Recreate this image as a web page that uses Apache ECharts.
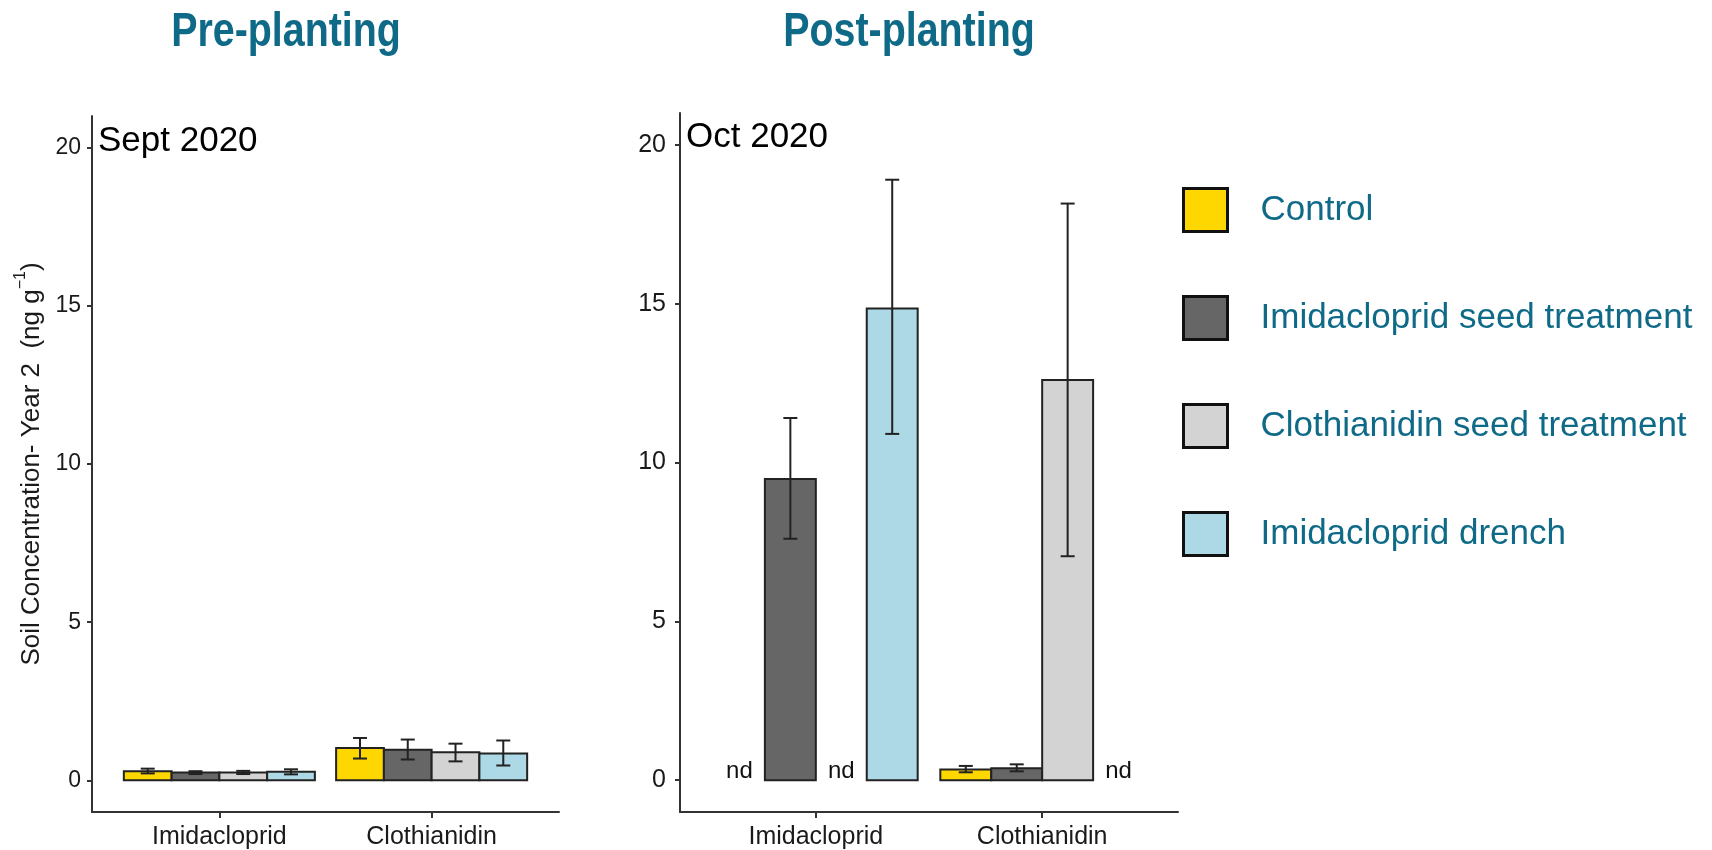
<!DOCTYPE html>
<html><head><meta charset="utf-8">
<script src="https://cdn.jsdelivr.net/npm/echarts@6/dist/echarts.min.js"></script>
<style>html,body{margin:0;padding:0;background:#fff}#c{width:1712px;height:850px}</style>
</head><body><div id="c"></div>
<script>
// ---- data ----
const categories = ['Imidacloprid', 'Clothianidin'];
const treatments = ['Control', 'Imidacloprid seed treatment', 'Clothianidin seed treatment', 'Imidacloprid drench'];
const yTicks = [0, 5, 10, 15, 20];
const panelTitles = ['Pre-planting', 'Post-planting'];
const panelDates = ['Sept 2020', 'Oct 2020'];
// Sept 2020 (pre-planting): rows = treatments, columns = categories
const septMeans = [[0.29, 1.02], [0.25, 0.97], [0.25, 0.89], [0.27, 0.85]];
const septLo    = [[0.22, 0.69], [0.20, 0.66], [0.20, 0.60], [0.19, 0.47]];
const septHi    = [[0.37, 1.34], [0.29, 1.29], [0.30, 1.16], [0.35, 1.26]];
// Oct 2020 (post-planting): null = not detected (nd)
const octMeans = [[null, 0.34], [9.48, 0.38], [null, 12.6], [14.85, null]];
const octLo    = [[null, 0.25], [7.6, 0.28], [null, 7.05], [10.9, null]];
const octHi    = [[null, 0.45], [11.4, 0.50], [null, 18.15], [18.9, null]];

// ---- style ----
const colors = ['#FFD700', '#666666', '#D3D3D3', '#ADD8E6'];
const SANS = '"Liberation Sans", Arial, sans-serif';
const TEAL = '#0f6a88';
const AX = '#333333';
const DODGE = 0.225;

function renderer(slot) {
  return function (params, api) {
    const c = api.value(0), v = api.value(1), lo = api.value(2), hi = api.value(3);
    const xc = c + (slot - 1.5) * DODGE;
    if (v == null || isNaN(v)) {
      const p = api.coord([xc, 0]);
      return { type: 'text', x: p[0], y: p[1] + 3,
        style: { text: 'nd', font: '24px ' + SANS, fill: '#111', align: 'center', verticalAlign: 'bottom', textAlign: 'center', textVerticalAlign: 'bottom' } };
    }
    const a = api.coord([xc - DODGE / 2, 0]);
    const b = api.coord([xc + DODGE / 2, v]);
    const t = api.coord([xc, hi]);
    const m = api.coord([xc, lo]);
    const cap = 7;
    const ls = { stroke: '#222', lineWidth: 2 };
    return { type: 'group', children: [
      { type: 'rect', shape: { x: a[0], y: b[1], width: b[0] - a[0], height: a[1] - b[1] },
        style: { fill: colors[slot], stroke: '#222', lineWidth: 2 } },
      { type: 'line', shape: { x1: t[0], y1: t[1], x2: m[0], y2: m[1] }, style: ls },
      { type: 'line', shape: { x1: t[0] - cap, y1: t[1], x2: t[0] + cap, y2: t[1] }, style: ls },
      { type: 'line', shape: { x1: m[0] - cap, y1: m[1], x2: m[0] + cap, y2: m[1] }, style: ls }
    ]};
  };
}

function seriesFor(idx, means, lo, hi) {
  return treatments.map((name, s) => ({
    type: 'custom', name: name, xAxisIndex: idx, yAxisIndex: idx,
    itemStyle: { color: colors[s] },
    renderItem: renderer(s),
    data: categories.map((cat, i) => [i + 1, means[s][i], lo[s][i], hi[s][i]])
  }));
}

function xAxis(idx, fs) {
  return { type: 'value', gridIndex: idx, min: 0.4, max: 2.6,
    axisLine: { show: true, onZero: false, lineStyle: { color: AX, width: 2 } },
    splitLine: { show: false },
    axisTick: { show: true, customValues: [1, 2], length: 6, lineStyle: { color: AX, width: 2 } },
    axisLabel: { customValues: [1, 2], formatter: v => categories[Math.round(v) - 1], fontSize: fs, fontFamily: SANS, color: '#1a1a1a', margin: 13 } };
}
function yAxis(idx, fs, margin, withName) {
  const ax = { type: 'value', gridIndex: idx, min: -1, max: 21,
    axisLine: { show: true, onZero: false, lineStyle: { color: AX, width: 2 } },
    splitLine: { show: false },
    axisTick: { show: true, customValues: yTicks, length: 5, lineStyle: { color: AX, width: 2 } },
    axisLabel: { customValues: yTicks, fontSize: fs, fontFamily: SANS, color: '#1a1a1a', margin: margin } };
  if (withName) {
    ax.name = '{t|Soil Concentration- Year 2  (ng g}{s|−1}{t|)}';
    ax.nameLocation = 'middle';
    ax.nameRotate = 90;
    ax.nameGap = 47;
    ax.nameTextStyle = { rich: {
      t: { fontSize: 26, fontFamily: SANS, color: '#1a1a1a', lineHeight: 32, verticalAlign: 'bottom' },
      s: { fontSize: 16, fontFamily: SANS, color: '#1a1a1a', lineHeight: 32, verticalAlign: 'top' } } };
  }
  return ax;
}

function titleText(x, y, text) {
  return { type: 'text', x: x, y: y, scaleX: 0.82,
    style: { text: text, font: 'bold 48px ' + SANS, fill: TEAL, align: 'center', verticalAlign: 'middle', textAlign: 'center', textVerticalAlign: 'middle' } };
}
function dateText(x, y, text) {
  return { type: 'text', x: x, y: y,
    style: { text: text, font: '35px ' + SANS, fill: '#000', align: 'left', verticalAlign: 'middle', textAlign: 'left', textVerticalAlign: 'middle' } };
}

const chart = echarts.init(document.getElementById('c'), null, { renderer: 'canvas' });
chart.setOption({
  animation: false,
  backgroundColor: '#ffffff',
  grid: [
    { left: 92, top: 116, width: 467, height: 701 },
    { left: 680, top: 113, width: 498, height: 704 }
  ],
  xAxis: [xAxis(0, 25), xAxis(1, 25)],
  yAxis: [yAxis(0, 23, 11, true), yAxis(1, 25, 14, false)],
  legend: {
    orient: 'vertical', left: 1177, top: 182, selectedMode: false,
    icon: 'rect', itemWidth: 44, itemHeight: 43, itemGap: 62,
    itemStyle: { borderColor: '#111', borderWidth: 3 },
    textStyle: { fontSize: 35, color: TEAL, fontFamily: SANS, padding: [0, 0, 0, 28] },
    data: treatments
  },
  graphic: [
    titleText(286, 33, panelTitles[0]),
    titleText(909, 33, panelTitles[1]),
    dateText(98, 141, panelDates[0]),
    dateText(686, 137, panelDates[1])
  ],
  series: seriesFor(0, septMeans, septLo, septHi).concat(seriesFor(1, octMeans, octLo, octHi))
});
</script></body></html>
